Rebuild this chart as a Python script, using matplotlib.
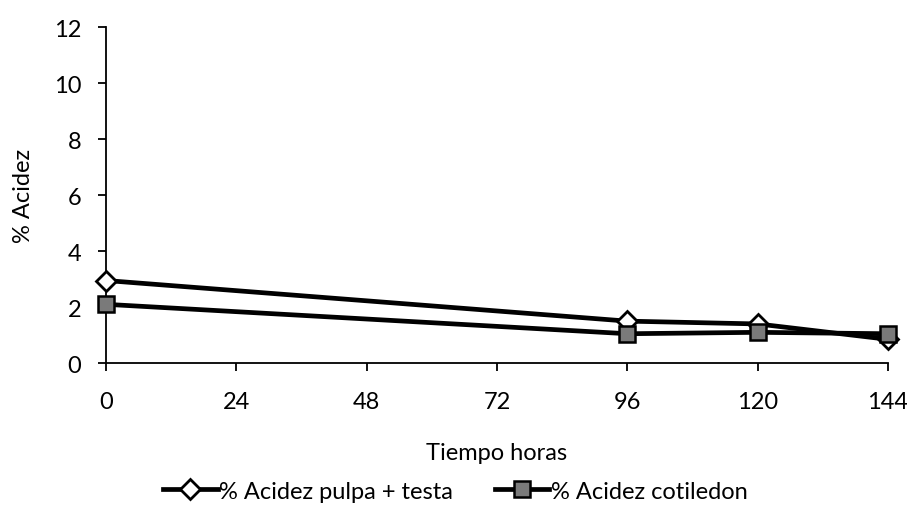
import numpy as np
import matplotlib.pyplot as plt

plt.rcParams['font.family'] = ['Lato', 'DejaVu Sans']

horas = [0, 96, 120, 144]
acidez_pulpa = [2.95, 1.5, 1.4, 0.85]
acidez_cotiledon = [2.1, 1.05, 1.1, 1.05]
xticks = [0, 24, 48, 72, 96, 120, 144]
yticks = [0, 2, 4, 6, 8, 10, 12]

fs = 17

fig = plt.figure(figsize=(9.07, 5.10), dpi=100)
ax = fig.add_axes([0.117, 0.286, 0.862, 0.659])

ax.plot(horas, acidez_pulpa, color="black", lw=3.4, marker="D", ms=10,
        mfc="white", mec="black", mew=2, label="% Acidez pulpa + testa",
        zorder=3, clip_on=False)
ax.plot(horas, acidez_cotiledon, color="black", lw=3.4, marker="s", ms=12,
        mfc="#7a7a7a", mec="black", mew=1.8, label="% Acidez cotiledon",
        zorder=4, clip_on=False)

ax.set_xlim(0, 144)
ax.set_ylim(0, 12)
ax.set_xticks(xticks)
ax.set_yticks(yticks)
ax.tick_params(axis="x", direction="out", length=6, width=1.3, labelsize=fs, pad=14)
ax.tick_params(axis="y", direction="out", length=6, width=1.3, labelsize=fs, pad=12)
for s in ["top", "right"]:
    ax.spines[s].set_visible(False)
for s in ["left", "bottom"]:
    ax.spines[s].set_linewidth(1.3)

ax.set_xlabel("Tiempo horas", fontsize=fs, labelpad=22)
ax.set_ylabel("% Acidez", fontsize=fs, labelpad=14)

fig.legend(loc="center", bbox_to_anchor=(0.502, 0.035), ncol=2, frameon=False,
           fontsize=fs, handlelength=2.3, columnspacing=1.8, handletextpad=0.05,
           borderaxespad=0, borderpad=0)

plt.savefig("out.png", dpi=100)
plt.close()
